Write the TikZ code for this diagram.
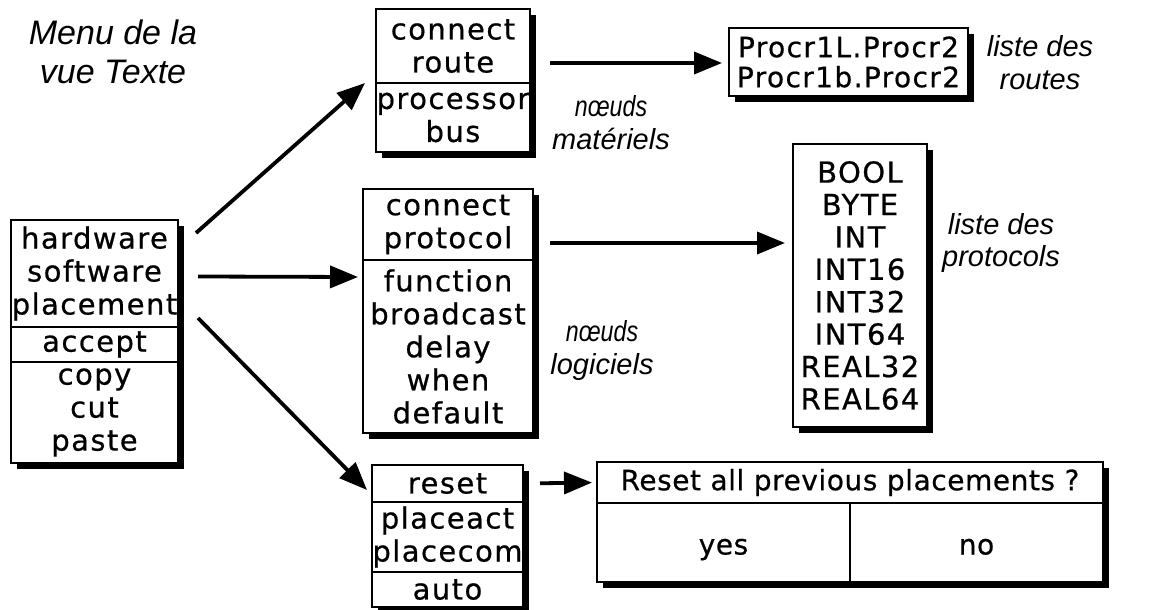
\documentclass[tikz,border=0pt]{standalone}
\usepackage{fontspec}
\setmainfont{Liberation Sans}
\newfontfamily\menufont[LetterSpace=5,FakeBold=0.6]{DejaVu Sans}
\newfontfamily\dialogfont[LetterSpace=2,FakeBold=0.6]{DejaVu Sans}
\usetikzlibrary{positioning,shadows,arrows.meta}

\tikzset{
  menu/.style={draw, line width=1.2pt, fill=white, inner sep=0pt, outer sep=0pt,
      align=center, font=\menufont\fontsize{14.5}{16.5}\selectfont,
      drop shadow={opacity=1, fill=black, shadow xshift=3.2pt, shadow yshift=-3.2pt}},
  button/.style={menu, minimum width=126.5pt, minimum height=39.5pt, text height=12pt, text depth=0pt,
      font=\dialogfont\fontsize{14}{16}\selectfont},
  note/.style={align=center, font=\itshape\fontsize{14.5}{16.5}\selectfont},
  pointer/.style={line width=1.9pt, -{Triangle[length=14pt,width=11pt]}}
}
\def\SquishNote#1{\scalebox{0.8}[1]{#1}}

\begin{document}
\begin{tikzpicture}[x=0.5pt,y=-0.5pt]
        \useasboundingbox (0,0) rectangle (1156,610);
        % main menu of the text view
        \node[menu, minimum width=83.5pt, minimum height=53.5pt, anchor=north west] (hw) at (11,220) {hardware\\software\\placement};
        \node[menu, minimum width=83.5pt, minimum height=17.5pt, below=0pt of hw] (accept) {accept};
        \node[menu, minimum width=83.5pt, minimum height=50.5pt, below=0pt of accept] (edit) {copy\\cut\\paste};
        \node[note, font=\itshape\fontsize{17}{19.5}\selectfont] (menutitle) at (113,52) {Menu de la\\vue Texte};

        % hardware submenu
        \node[menu, minimum width=77pt, minimum height=37pt, anchor=north west] (conroute) at (376,9) {connect\\route};
        \node[menu, minimum width=77pt, minimum height=34.5pt, below=0pt of conroute] (hwnodes) {processor\\bus};
        \node[note] (hwnote) at (611,123) {\SquishNote{nœuds}\\matériels};

        % software submenu
        \node[menu, minimum width=85pt, minimum height=35.5pt, anchor=north west] (conproto) at (363,189) {connect\\protocol};
        \node[menu, minimum width=85pt, minimum height=86.5pt, below=0pt of conproto] (swnodes) {function\\broadcast\\delay\\when\\default};
        \node[note] (swnote) at (602,350) {\SquishNote{nœuds}\\logiciels};

        % placement submenu
        \node[menu, minimum width=75.5pt, minimum height=18.5pt, anchor=north west] (reset) at (372,465) {reset};
        \node[menu, minimum width=75.5pt, minimum height=35pt, below=0pt of reset] (place) {placeact\\placecom};
        \node[menu, minimum width=75.5pt, minimum height=17.5pt, below=0pt of place] (autoitem) {auto};

        % lists
        \node[menu, minimum width=119.5pt, minimum height=34pt, anchor=north west,
              font=\menufont\fontsize{14}{15}\selectfont] (routes) at (729,28) {Procr1L.Procr2\\Procr1b.Procr2};
        \node[note] (routenote) at (1040,63) {liste des\\routes};
        \node[menu, minimum width=67pt, minimum height=141.5pt, anchor=north west,
              font=\menufont\fontsize{14.5}{16.2}\selectfont] (protos) at (793,144)
              {BOOL\\BYTE\\INT\\INT16\\INT32\\INT64\\REAL32\\REAL64};
        \node[note] (protonote) at (1001,243) {liste des\\protocols};

        % confirmation dialog
        \node[menu, minimum width=253pt, minimum height=20.5pt, anchor=north west,
              font=\dialogfont\fontsize{14}{16}\selectfont] (question) at (597,462) {Reset all previous placements ?};
        \node[button, below right=0pt and 0pt of question.south west] (yes) {yes};
        \node[button, right=0pt of yes] (no) {no};

        % arrows
        \coordinate (routeout) at ([shift={(20,17)}]conroute.east);
        \coordinate (protoout) at ([shift={(17,18.5)}]conproto.east);
        \draw[pointer] ([shift={(18,13)}]hw.north east) -- ([shift={(-11,0)}]conroute.south west);
        \draw[pointer] ([shift={(20,3)}]hw.east) -- ([shift={(-5,17)}]conproto.south west);
        \draw[pointer] ([shift={(20,-9)}]hw.south east) -- ([shift={(-5,-12)}]reset.south west);
        \draw[pointer, shorten >=3.5pt] (routeout) -- (routeout -| routes.west);
        \draw[pointer, shorten >=4pt] (protoout) -- (protoout -| protos.west);
        \draw[pointer, shorten <=8.5pt, shorten >=2.5pt] (reset.east) -- (question.west);
      \end{tikzpicture}
\end{document}
